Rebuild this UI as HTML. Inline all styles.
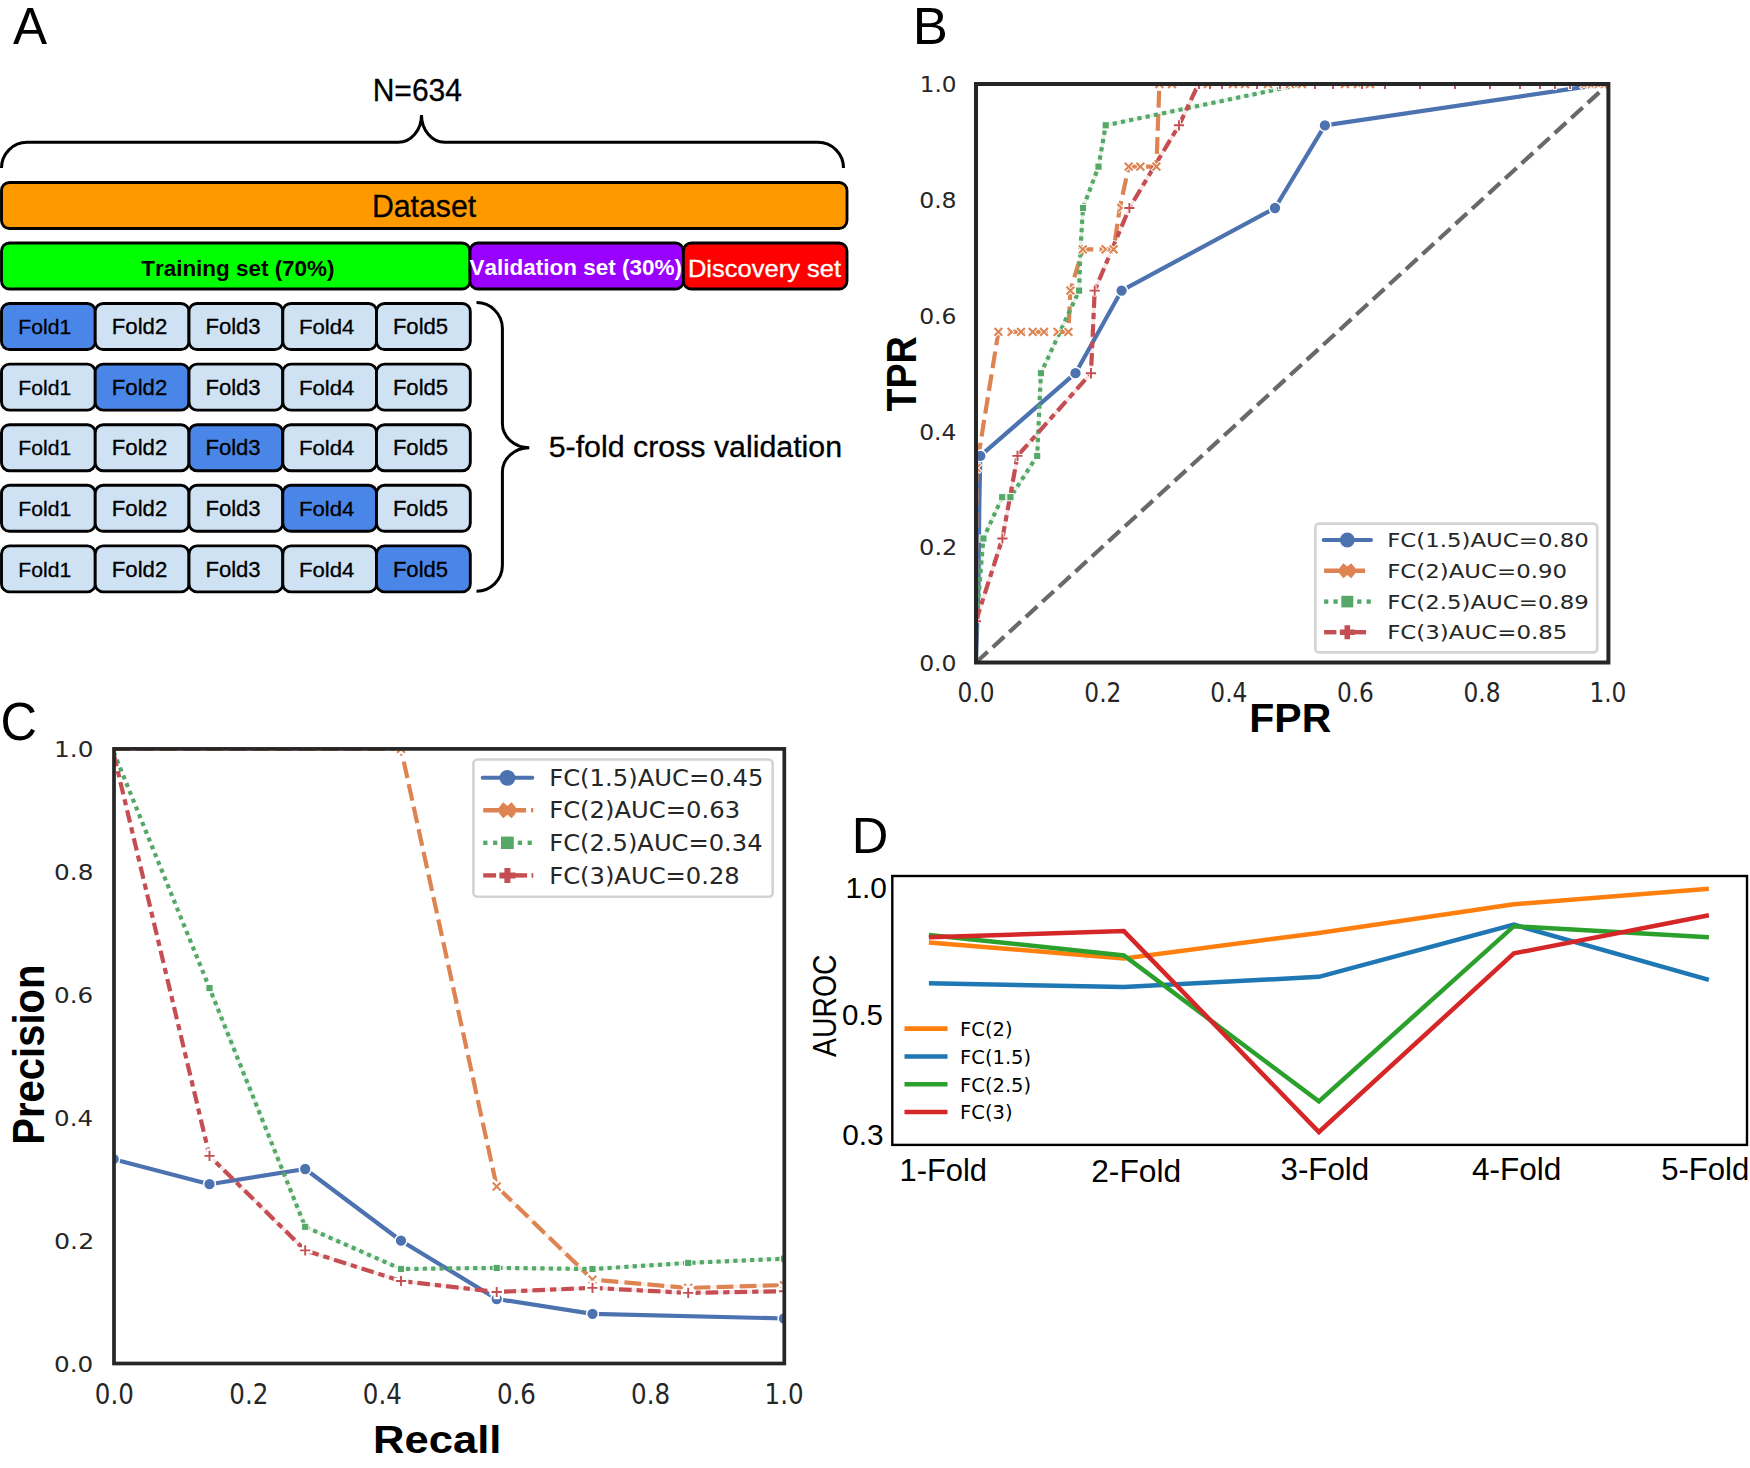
<!DOCTYPE html>
<html lang="en"><head><meta charset="utf-8"><title>Figure: 5-fold cross validation, ROC, precision-recall and AUROC per fold</title>
<style>
html,body{margin:0;padding:0;background:#fff}
svg{display:block;font-family:"Liberation Sans",sans-serif;font-kerning:none}
text{white-space:pre}
</style></head>
<body>
<svg width="1750" height="1468" viewBox="0 0 1750 1468">
<rect width="1750" height="1468" fill="#fff"/>
<g id="panelA">
<text transform="translate(13.00 44.00) scale(0.9992 1)" font-size="51.16" fill="#000">A</text>
<text transform="translate(372.63 101.00) scale(0.9622 1)" font-size="31.25" fill="#000" stroke="#000" stroke-width="0.30">N=634</text>
<path d="M1.5 168 A25.5 25.7 0 0 1 27 142.3 L398.3 142.3 A23.2 27.3 0 0 0 421.5 115 A23.2 27.3 0 0 0 444.7 142.3 L818 142.3 A25.5 25.7 0 0 1 843.5 168" fill="none" stroke="#000" stroke-width="3"/>
<rect x="1.5" y="182.5" width="845.5" height="46.0" rx="8" fill="#ff9900" stroke="#000" stroke-width="2.85"/>
<text transform="translate(371.92 217.00) scale(0.9757 1)" font-size="31.02" fill="#000" stroke="#000" stroke-width="0.30">Dataset</text>
<rect x="1.5" y="243.0" width="468.5" height="46.0" rx="8" fill="#00ff00" stroke="#000" stroke-width="2.85"/>
<rect x="470.0" y="243.0" width="213.4" height="46.0" rx="8" fill="#9900ff" stroke="#000" stroke-width="2.85"/>
<rect x="683.4" y="243.0" width="163.6" height="46.0" rx="8" fill="#ff0000" stroke="#000" stroke-width="2.85"/>
<text transform="translate(141.25 276.00) scale(0.9902 1)" font-size="22.67" font-weight="bold" fill="#000">Training set (70%)</text>
<text transform="translate(469.55 274.80) scale(1.0432 1)" font-size="21.57" font-weight="bold" fill="#fff">Validation set (30%)</text>
<text transform="translate(687.90 277.30) scale(1.1044 1)" font-size="23.13" fill="#fff" stroke="#fff" stroke-width="0.30">Discovery set</text>
<rect x="1.5" y="303.5" width="93.8" height="46.0" rx="8" fill="#4a86e8" stroke="#000" stroke-width="2.9"/>
<text transform="translate(18.37 334.10) scale(0.9993 1)" font-size="21.15" fill="#000" stroke="#000" stroke-width="0.30">Fold1</text>
<rect x="95.2" y="303.5" width="93.8" height="46.0" rx="8" fill="#cfe2f3" stroke="#000" stroke-width="2.9"/>
<text transform="translate(111.78 334.10) scale(1.0478 1)" font-size="21.15" fill="#000" stroke="#000" stroke-width="0.30">Fold2</text>
<rect x="189.0" y="303.5" width="93.8" height="46.0" rx="8" fill="#cfe2f3" stroke="#000" stroke-width="2.9"/>
<text transform="translate(205.39 334.10) scale(1.0450 1)" font-size="21.15" fill="#000" stroke="#000" stroke-width="0.30">Fold3</text>
<rect x="282.8" y="303.5" width="93.8" height="46.0" rx="8" fill="#cfe2f3" stroke="#000" stroke-width="2.9"/>
<text transform="translate(298.88 334.10) scale(1.0485 1)" font-size="21.15" fill="#000" stroke="#000" stroke-width="0.30">Fold4</text>
<rect x="376.5" y="303.5" width="93.8" height="46.0" rx="8" fill="#cfe2f3" stroke="#000" stroke-width="2.9"/>
<text transform="translate(392.89 334.10) scale(1.0442 1)" font-size="21.15" fill="#000" stroke="#000" stroke-width="0.30">Fold5</text>
<rect x="1.5" y="364.1" width="93.8" height="46.0" rx="8" fill="#cfe2f3" stroke="#000" stroke-width="2.9"/>
<text transform="translate(18.37 394.70) scale(0.9993 1)" font-size="21.15" fill="#000" stroke="#000" stroke-width="0.30">Fold1</text>
<rect x="95.2" y="364.1" width="93.8" height="46.0" rx="8" fill="#4a86e8" stroke="#000" stroke-width="2.9"/>
<text transform="translate(111.78 394.70) scale(1.0478 1)" font-size="21.15" fill="#000" stroke="#000" stroke-width="0.30">Fold2</text>
<rect x="189.0" y="364.1" width="93.8" height="46.0" rx="8" fill="#cfe2f3" stroke="#000" stroke-width="2.9"/>
<text transform="translate(205.39 394.70) scale(1.0450 1)" font-size="21.15" fill="#000" stroke="#000" stroke-width="0.30">Fold3</text>
<rect x="282.8" y="364.1" width="93.8" height="46.0" rx="8" fill="#cfe2f3" stroke="#000" stroke-width="2.9"/>
<text transform="translate(298.88 394.70) scale(1.0485 1)" font-size="21.15" fill="#000" stroke="#000" stroke-width="0.30">Fold4</text>
<rect x="376.5" y="364.1" width="93.8" height="46.0" rx="8" fill="#cfe2f3" stroke="#000" stroke-width="2.9"/>
<text transform="translate(392.89 394.70) scale(1.0442 1)" font-size="21.15" fill="#000" stroke="#000" stroke-width="0.30">Fold5</text>
<rect x="1.5" y="424.7" width="93.8" height="46.0" rx="8" fill="#cfe2f3" stroke="#000" stroke-width="2.9"/>
<text transform="translate(18.37 455.30) scale(0.9993 1)" font-size="21.15" fill="#000" stroke="#000" stroke-width="0.30">Fold1</text>
<rect x="95.2" y="424.7" width="93.8" height="46.0" rx="8" fill="#cfe2f3" stroke="#000" stroke-width="2.9"/>
<text transform="translate(111.78 455.30) scale(1.0478 1)" font-size="21.15" fill="#000" stroke="#000" stroke-width="0.30">Fold2</text>
<rect x="189.0" y="424.7" width="93.8" height="46.0" rx="8" fill="#4a86e8" stroke="#000" stroke-width="2.9"/>
<text transform="translate(205.39 455.30) scale(1.0450 1)" font-size="21.15" fill="#000" stroke="#000" stroke-width="0.30">Fold3</text>
<rect x="282.8" y="424.7" width="93.8" height="46.0" rx="8" fill="#cfe2f3" stroke="#000" stroke-width="2.9"/>
<text transform="translate(298.88 455.30) scale(1.0485 1)" font-size="21.15" fill="#000" stroke="#000" stroke-width="0.30">Fold4</text>
<rect x="376.5" y="424.7" width="93.8" height="46.0" rx="8" fill="#cfe2f3" stroke="#000" stroke-width="2.9"/>
<text transform="translate(392.89 455.30) scale(1.0442 1)" font-size="21.15" fill="#000" stroke="#000" stroke-width="0.30">Fold5</text>
<rect x="1.5" y="485.3" width="93.8" height="46.0" rx="8" fill="#cfe2f3" stroke="#000" stroke-width="2.9"/>
<text transform="translate(18.37 515.90) scale(0.9993 1)" font-size="21.15" fill="#000" stroke="#000" stroke-width="0.30">Fold1</text>
<rect x="95.2" y="485.3" width="93.8" height="46.0" rx="8" fill="#cfe2f3" stroke="#000" stroke-width="2.9"/>
<text transform="translate(111.78 515.90) scale(1.0478 1)" font-size="21.15" fill="#000" stroke="#000" stroke-width="0.30">Fold2</text>
<rect x="189.0" y="485.3" width="93.8" height="46.0" rx="8" fill="#cfe2f3" stroke="#000" stroke-width="2.9"/>
<text transform="translate(205.39 515.90) scale(1.0450 1)" font-size="21.15" fill="#000" stroke="#000" stroke-width="0.30">Fold3</text>
<rect x="282.8" y="485.3" width="93.8" height="46.0" rx="8" fill="#4a86e8" stroke="#000" stroke-width="2.9"/>
<text transform="translate(298.88 515.90) scale(1.0485 1)" font-size="21.15" fill="#000" stroke="#000" stroke-width="0.30">Fold4</text>
<rect x="376.5" y="485.3" width="93.8" height="46.0" rx="8" fill="#cfe2f3" stroke="#000" stroke-width="2.9"/>
<text transform="translate(392.89 515.90) scale(1.0442 1)" font-size="21.15" fill="#000" stroke="#000" stroke-width="0.30">Fold5</text>
<rect x="1.5" y="545.9" width="93.8" height="46.0" rx="8" fill="#cfe2f3" stroke="#000" stroke-width="2.9"/>
<text transform="translate(18.37 576.50) scale(0.9993 1)" font-size="21.15" fill="#000" stroke="#000" stroke-width="0.30">Fold1</text>
<rect x="95.2" y="545.9" width="93.8" height="46.0" rx="8" fill="#cfe2f3" stroke="#000" stroke-width="2.9"/>
<text transform="translate(111.78 576.50) scale(1.0478 1)" font-size="21.15" fill="#000" stroke="#000" stroke-width="0.30">Fold2</text>
<rect x="189.0" y="545.9" width="93.8" height="46.0" rx="8" fill="#cfe2f3" stroke="#000" stroke-width="2.9"/>
<text transform="translate(205.39 576.50) scale(1.0450 1)" font-size="21.15" fill="#000" stroke="#000" stroke-width="0.30">Fold3</text>
<rect x="282.8" y="545.9" width="93.8" height="46.0" rx="8" fill="#cfe2f3" stroke="#000" stroke-width="2.9"/>
<text transform="translate(298.88 576.50) scale(1.0485 1)" font-size="21.15" fill="#000" stroke="#000" stroke-width="0.30">Fold4</text>
<rect x="376.5" y="545.9" width="93.8" height="46.0" rx="8" fill="#4a86e8" stroke="#000" stroke-width="2.9"/>
<text transform="translate(392.89 576.50) scale(1.0442 1)" font-size="21.15" fill="#000" stroke="#000" stroke-width="0.30">Fold5</text>
<path d="M476.5 302.6 A25.9 25.9 0 0 1 502.4 328.5 L502.4 423.5 A26.9 24.2 0 0 0 529.3 447.7 A26.9 24.2 0 0 0 502.4 471.9 L502.4 565.3 A25.9 25.9 0 0 1 476.5 591.2" fill="none" stroke="#000" stroke-width="3"/>
<text transform="translate(548.68 457.20) scale(1.0453 1)" font-size="29.04" fill="#000" stroke="#000" stroke-width="0.30">5-fold cross validation</text>
</g>
<g id="panelB">
<text transform="translate(912.68 43.60) scale(1.0054 1)" font-size="52.33" fill="#000">B</text>
<line x1="976.0" y1="662.5" x2="1608.4" y2="84.0" stroke="#696969" stroke-width="4.2" stroke-dasharray="15.6 6.8" stroke-dashoffset="-0.3"/>
<clipPath id="cb"><rect x="976.0" y="84.0" width="632.4" height="578.5"/></clipPath>
<g clip-path="url(#cb)">
<polyline points="976.0,662.5 978.4,585.0 979.4,500.0 980.3,455.9 1075.5,373.2 1121.6,290.6 1275.0,208.0 1324.9,125.3 1600.0,84.6 1608.4,84.0" fill="none" stroke="#4c72b0" stroke-width="4.2" stroke-linejoin="round"/>
<polyline points="976.0,640.0 976.5,468.0 998.4,331.9 1010.0,331.9 1021.0,331.9 1032.7,331.9 1044.0,331.9 1056.0,331.9 1068.4,331.9 1070.4,290.6 1082.8,249.3 1104.0,249.3 1113.6,249.3 1119.8,208.0 1128.7,166.6 1140.4,166.6 1156.4,166.6 1159.4,84.0 1608.4,84.0" fill="none" stroke="#dd8452" stroke-width="4.2" stroke-linejoin="round" stroke-dasharray="16.8 6.3" stroke-dashoffset="4"/>
<polyline points="976.0,640.0 976.5,621.2 983.4,538.5 1002.2,497.2 1010.4,497.2 1037.2,455.9 1040.9,373.2 1079.1,290.6 1080.5,249.3 1083.0,208.0 1098.5,166.6 1105.7,125.3 1303.0,84.0 1608.4,84.0" fill="none" stroke="#55a868" stroke-opacity="0.16" stroke-width="3.2" stroke-linejoin="round"/>
<polyline points="976.0,640.0 976.5,621.2 983.4,538.5 1002.2,497.2 1010.4,497.2 1037.2,455.9 1040.9,373.2 1079.1,290.6 1080.5,249.3 1083.0,208.0 1098.5,166.6 1105.7,125.3 1303.0,84.0 1608.4,84.0" fill="none" stroke="#55a868" stroke-width="4.2" stroke-linejoin="round" stroke-dasharray="4.2 4.2" stroke-dashoffset="0"/>
<polyline points="976.0,621.2 1002.4,538.5 1017.5,455.9 1091.0,373.2 1094.7,290.6 1129.4,208.0 1179.0,125.3 1198.5,84.0 1608.4,84.0" fill="none" stroke="#c44e52" stroke-opacity="0.16" stroke-width="3.2" stroke-linejoin="round"/>
<polyline points="976.0,621.2 1002.4,538.5 1017.5,455.9 1091.0,373.2 1094.7,290.6 1129.4,208.0 1179.0,125.3 1198.5,84.0 1608.4,84.0" fill="none" stroke="#c44e52" stroke-width="4.2" stroke-linejoin="round" stroke-dasharray="12.6 5 6.3 5" stroke-dashoffset="0"/>
<circle cx="980.3" cy="455.9" r="5.9" fill="#4c72b0" stroke="#fff" stroke-width="1.5"/>
<circle cx="1075.5" cy="373.2" r="5.9" fill="#4c72b0" stroke="#fff" stroke-width="1.5"/>
<circle cx="1121.6" cy="290.6" r="5.9" fill="#4c72b0" stroke="#fff" stroke-width="1.5"/>
<circle cx="1275.0" cy="208.0" r="5.9" fill="#4c72b0" stroke="#fff" stroke-width="1.5"/>
<circle cx="1324.9" cy="125.3" r="5.9" fill="#4c72b0" stroke="#fff" stroke-width="1.5"/>
<path d="M972.0 463.5 L981.0 472.5 M972.0 472.5 L981.0 463.5" stroke="#fff" stroke-width="3.9" fill="none"/>
<path d="M972.6 464.1 L980.4 471.9 M972.6 471.9 L980.4 464.1" stroke="#dd8452" stroke-width="2.1" fill="none"/>
<path d="M993.9 327.4 L1002.9 336.5 M993.9 336.5 L1002.9 327.4" stroke="#fff" stroke-width="3.9" fill="none"/>
<path d="M994.5 328.0 L1002.3 335.8 M994.5 335.8 L1002.3 328.0" stroke="#dd8452" stroke-width="2.1" fill="none"/>
<path d="M1007.6 328.0 L1011.9 331.9 L1007.6 335.8" stroke="#fff" stroke-width="3.9" fill="none"/>
<path d="M1007.6 328.0 L1011.9 331.9 L1007.6 335.8" stroke="#dd8452" stroke-width="2.1" fill="none" stroke-linejoin="miter"/>
<path d="M1016.5 327.4 L1025.5 336.5 M1016.5 336.5 L1025.5 327.4" stroke="#fff" stroke-width="3.9" fill="none"/>
<path d="M1017.1 328.0 L1024.9 335.8 M1017.1 335.8 L1024.9 328.0" stroke="#dd8452" stroke-width="2.1" fill="none"/>
<path d="M1028.2 327.4 L1037.2 336.5 M1028.2 336.5 L1037.2 327.4" stroke="#fff" stroke-width="3.9" fill="none"/>
<path d="M1028.8 328.0 L1036.6 335.8 M1028.8 335.8 L1036.6 328.0" stroke="#dd8452" stroke-width="2.1" fill="none"/>
<path d="M1039.5 327.4 L1048.5 336.5 M1039.5 336.5 L1048.5 327.4" stroke="#fff" stroke-width="3.9" fill="none"/>
<path d="M1040.1 328.0 L1047.9 335.8 M1040.1 335.8 L1047.9 328.0" stroke="#dd8452" stroke-width="2.1" fill="none"/>
<path d="M1053.6 328.0 L1057.9 331.9 L1053.6 335.8" stroke="#fff" stroke-width="3.9" fill="none"/>
<path d="M1053.6 328.0 L1057.9 331.9 L1053.6 335.8" stroke="#dd8452" stroke-width="2.1" fill="none" stroke-linejoin="miter"/>
<path d="M1063.9 327.4 L1072.9 336.5 M1063.9 336.5 L1072.9 327.4" stroke="#fff" stroke-width="3.9" fill="none"/>
<path d="M1064.5 328.0 L1072.3 335.8 M1064.5 335.8 L1072.3 328.0" stroke="#dd8452" stroke-width="2.1" fill="none"/>
<path d="M1065.9 286.1 L1074.9 295.1 M1065.9 295.1 L1074.9 286.1" stroke="#fff" stroke-width="3.9" fill="none"/>
<path d="M1066.5 286.7 L1074.3 294.5 M1066.5 294.5 L1074.3 286.7" stroke="#dd8452" stroke-width="2.1" fill="none"/>
<path d="M1078.3 244.8 L1087.3 253.8 M1078.3 253.8 L1087.3 244.8" stroke="#fff" stroke-width="3.9" fill="none"/>
<path d="M1078.9 245.4 L1086.7 253.2 M1078.9 253.2 L1086.7 245.4" stroke="#dd8452" stroke-width="2.1" fill="none"/>
<path d="M1101.6 245.4 L1105.9 249.3 L1101.6 253.2" stroke="#fff" stroke-width="3.9" fill="none"/>
<path d="M1101.6 245.4 L1105.9 249.3 L1101.6 253.2" stroke="#dd8452" stroke-width="2.1" fill="none" stroke-linejoin="miter"/>
<path d="M1109.1 244.8 L1118.1 253.8 M1109.1 253.8 L1118.1 244.8" stroke="#fff" stroke-width="3.9" fill="none"/>
<path d="M1109.7 245.4 L1117.5 253.2 M1109.7 253.2 L1117.5 245.4" stroke="#dd8452" stroke-width="2.1" fill="none"/>
<path d="M1117.4 204.1 L1121.7 208.0 L1117.4 211.9" stroke="#fff" stroke-width="3.9" fill="none"/>
<path d="M1117.4 204.1 L1121.7 208.0 L1117.4 211.9" stroke="#dd8452" stroke-width="2.1" fill="none" stroke-linejoin="miter"/>
<path d="M1124.2 162.1 L1133.2 171.2 M1124.2 171.2 L1133.2 162.1" stroke="#fff" stroke-width="3.9" fill="none"/>
<path d="M1124.8 162.7 L1132.6 170.5 M1124.8 170.5 L1132.6 162.7" stroke="#dd8452" stroke-width="2.1" fill="none"/>
<path d="M1135.9 162.1 L1144.9 171.2 M1135.9 171.2 L1144.9 162.1" stroke="#fff" stroke-width="3.9" fill="none"/>
<path d="M1136.5 162.7 L1144.3 170.5 M1136.5 170.5 L1144.3 162.7" stroke="#dd8452" stroke-width="2.1" fill="none"/>
<path d="M1151.9 162.1 L1160.9 171.2 M1151.9 171.2 L1160.9 162.1" stroke="#fff" stroke-width="3.9" fill="none"/>
<path d="M1152.5 162.7 L1160.3 170.5 M1152.5 170.5 L1160.3 162.7" stroke="#dd8452" stroke-width="2.1" fill="none"/>
<path d="M1154.9 79.5 L1163.9 88.5 M1154.9 88.5 L1163.9 79.5" stroke="#fff" stroke-width="3.9" fill="none"/>
<path d="M1155.5 80.1 L1163.3 87.9 M1155.5 87.9 L1163.3 80.1" stroke="#dd8452" stroke-width="2.1" fill="none"/>
<rect x="979.8" y="534.9" width="7.2" height="7.2" fill="#55a868" stroke="#fff" stroke-width="1.0"/>
<rect x="998.6" y="493.6" width="7.2" height="7.2" fill="#55a868" stroke="#fff" stroke-width="1.0"/>
<rect x="1006.8" y="493.6" width="7.2" height="7.2" fill="#55a868" stroke="#fff" stroke-width="1.0"/>
<rect x="1033.6" y="452.3" width="7.2" height="7.2" fill="#55a868" stroke="#fff" stroke-width="1.0"/>
<rect x="1037.3" y="369.6" width="7.2" height="7.2" fill="#55a868" stroke="#fff" stroke-width="1.0"/>
<rect x="1075.5" y="287.0" width="7.2" height="7.2" fill="#55a868" stroke="#fff" stroke-width="1.0"/>
<rect x="1079.4" y="204.4" width="7.2" height="7.2" fill="#55a868" stroke="#fff" stroke-width="1.0"/>
<rect x="1094.9" y="163.0" width="7.2" height="7.2" fill="#55a868" stroke="#fff" stroke-width="1.0"/>
<rect x="1102.1" y="121.7" width="7.2" height="7.2" fill="#55a868" stroke="#fff" stroke-width="1.0"/>
<path d="M970.0 621.2 L982.0 621.2 M976.0 615.2 L976.0 627.2" stroke="#fff" stroke-width="3.7" fill="none"/>
<path d="M970.9 621.2 L981.1 621.2 M976.0 616.1 L976.0 626.3" stroke="#c44e52" stroke-width="1.9" fill="none"/>
<path d="M996.4 538.5 L1008.4 538.5 M1002.4 532.5 L1002.4 544.5" stroke="#fff" stroke-width="3.7" fill="none"/>
<path d="M997.3 538.5 L1007.5 538.5 M1002.4 533.4 L1002.4 543.6" stroke="#c44e52" stroke-width="1.9" fill="none"/>
<path d="M1011.5 455.9 L1023.5 455.9 M1017.5 449.9 L1017.5 461.9" stroke="#fff" stroke-width="3.7" fill="none"/>
<path d="M1012.4 455.9 L1022.6 455.9 M1017.5 450.8 L1017.5 461.0" stroke="#c44e52" stroke-width="1.9" fill="none"/>
<path d="M1085.0 373.2 L1097.0 373.2 M1091.0 367.2 L1091.0 379.2" stroke="#fff" stroke-width="3.7" fill="none"/>
<path d="M1085.9 373.2 L1096.1 373.2 M1091.0 368.1 L1091.0 378.4" stroke="#c44e52" stroke-width="1.9" fill="none"/>
<path d="M1088.7 290.6 L1100.7 290.6 M1094.7 284.6 L1094.7 296.6" stroke="#fff" stroke-width="3.7" fill="none"/>
<path d="M1089.6 290.6 L1099.8 290.6 M1094.7 285.5 L1094.7 295.7" stroke="#c44e52" stroke-width="1.9" fill="none"/>
<path d="M1123.4 208.0 L1135.4 208.0 M1129.4 202.0 L1129.4 214.0" stroke="#fff" stroke-width="3.7" fill="none"/>
<path d="M1124.3 208.0 L1134.5 208.0 M1129.4 202.9 L1129.4 213.1" stroke="#c44e52" stroke-width="1.9" fill="none"/>
<path d="M1173.0 125.3 L1185.0 125.3 M1179.0 119.3 L1179.0 131.3" stroke="#fff" stroke-width="3.7" fill="none"/>
<path d="M1173.9 125.3 L1184.1 125.3 M1179.0 120.2 L1179.0 130.4" stroke="#c44e52" stroke-width="1.9" fill="none"/>
<path d="M1192.5 84.0 L1204.5 84.0 M1198.5 78.0 L1198.5 90.0" stroke="#fff" stroke-width="3.7" fill="none"/>
<path d="M1193.4 84.0 L1203.6 84.0 M1198.5 78.9 L1198.5 89.1" stroke="#c44e52" stroke-width="1.9" fill="none"/>
<path d="M1167.5 79.5 L1176.5 88.5 M1167.5 88.5 L1176.5 79.5" stroke="#fff" stroke-width="3.9" fill="none"/>
<path d="M1168.1 80.1 L1175.9 87.9 M1168.1 87.9 L1175.9 80.1" stroke="#dd8452" stroke-width="2.1" fill="none"/>
<path d="M1203.5 79.5 L1212.5 88.5 M1203.5 88.5 L1212.5 79.5" stroke="#fff" stroke-width="3.9" fill="none"/>
<path d="M1204.1 80.1 L1211.9 87.9 M1204.1 87.9 L1211.9 80.1" stroke="#dd8452" stroke-width="2.1" fill="none"/>
<path d="M1228.5 79.5 L1237.5 88.5 M1228.5 88.5 L1237.5 79.5" stroke="#fff" stroke-width="3.9" fill="none"/>
<path d="M1229.1 80.1 L1236.9 87.9 M1229.1 87.9 L1236.9 80.1" stroke="#dd8452" stroke-width="2.1" fill="none"/>
<path d="M1240.5 79.5 L1249.5 88.5 M1240.5 88.5 L1249.5 79.5" stroke="#fff" stroke-width="3.9" fill="none"/>
<path d="M1241.1 80.1 L1248.9 87.9 M1241.1 87.9 L1248.9 80.1" stroke="#dd8452" stroke-width="2.1" fill="none"/>
<path d="M1263.5 79.5 L1272.5 88.5 M1263.5 88.5 L1272.5 79.5" stroke="#fff" stroke-width="3.9" fill="none"/>
<path d="M1264.1 80.1 L1271.9 87.9 M1264.1 87.9 L1271.9 80.1" stroke="#dd8452" stroke-width="2.1" fill="none"/>
<path d="M1285.5 79.5 L1294.5 88.5 M1285.5 88.5 L1294.5 79.5" stroke="#fff" stroke-width="3.9" fill="none"/>
<path d="M1286.1 80.1 L1293.9 87.9 M1286.1 87.9 L1293.9 80.1" stroke="#dd8452" stroke-width="2.1" fill="none"/>
<path d="M1297.5 79.5 L1306.5 88.5 M1297.5 88.5 L1306.5 79.5" stroke="#fff" stroke-width="3.9" fill="none"/>
<path d="M1298.1 80.1 L1305.9 87.9 M1298.1 87.9 L1305.9 80.1" stroke="#dd8452" stroke-width="2.1" fill="none"/>
<path d="M1340.5 79.5 L1349.5 88.5 M1340.5 88.5 L1349.5 79.5" stroke="#fff" stroke-width="3.9" fill="none"/>
<path d="M1341.1 80.1 L1348.9 87.9 M1341.1 87.9 L1348.9 80.1" stroke="#dd8452" stroke-width="2.1" fill="none"/>
<path d="M1353.5 79.5 L1362.5 88.5 M1353.5 88.5 L1362.5 79.5" stroke="#fff" stroke-width="3.9" fill="none"/>
<path d="M1354.1 80.1 L1361.9 87.9 M1354.1 87.9 L1361.9 80.1" stroke="#dd8452" stroke-width="2.1" fill="none"/>
<path d="M1365.5 79.5 L1374.5 88.5 M1365.5 88.5 L1374.5 79.5" stroke="#fff" stroke-width="3.9" fill="none"/>
<path d="M1366.1 80.1 L1373.9 87.9 M1366.1 87.9 L1373.9 80.1" stroke="#dd8452" stroke-width="2.1" fill="none"/>
<path d="M1580.2 81.2 L1587.8 88.8 M1580.2 88.8 L1587.8 81.2" stroke="#fff" stroke-width="3.4" fill="none"/>
<path d="M1580.8 81.8 L1587.2 88.2 M1580.8 88.2 L1587.2 81.8" stroke="#dd8452" stroke-width="1.6" fill="none"/>
<path d="M1587.2 81.2 L1594.8 88.8 M1587.2 88.8 L1594.8 81.2" stroke="#fff" stroke-width="3.4" fill="none"/>
<path d="M1587.8 81.8 L1594.2 88.2 M1587.8 88.2 L1594.2 81.8" stroke="#dd8452" stroke-width="1.6" fill="none"/>
<path d="M1594.2 81.2 L1601.8 88.8 M1594.2 88.8 L1601.8 81.2" stroke="#fff" stroke-width="3.4" fill="none"/>
<path d="M1594.8 81.8 L1601.2 88.2 M1594.8 88.2 L1601.2 81.8" stroke="#dd8452" stroke-width="1.6" fill="none"/>
<path d="M1600.2 81.2 L1607.8 88.8 M1600.2 88.8 L1607.8 81.2" stroke="#fff" stroke-width="3.4" fill="none"/>
<path d="M1600.8 81.8 L1607.2 88.2 M1600.8 88.2 L1607.2 81.8" stroke="#dd8452" stroke-width="1.6" fill="none"/>
<path d="M1193.0 84.0 L1205.0 84.0 M1199.0 78.0 L1199.0 90.0" stroke="#fff" stroke-width="3.7" fill="none"/>
<path d="M1193.9 84.0 L1204.1 84.0 M1199.0 78.9 L1199.0 89.1" stroke="#c44e52" stroke-width="1.9" fill="none"/>
<path d="M1204.0 84.0 L1216.0 84.0 M1210.0 78.0 L1210.0 90.0" stroke="#fff" stroke-width="3.7" fill="none"/>
<path d="M1204.9 84.0 L1215.1 84.0 M1210.0 78.9 L1210.0 89.1" stroke="#c44e52" stroke-width="1.9" fill="none"/>
<path d="M1216.0 84.0 L1228.0 84.0 M1222.0 78.0 L1222.0 90.0" stroke="#fff" stroke-width="3.7" fill="none"/>
<path d="M1216.9 84.0 L1227.1 84.0 M1222.0 78.9 L1222.0 89.1" stroke="#c44e52" stroke-width="1.9" fill="none"/>
<path d="M1251.0 84.0 L1263.0 84.0 M1257.0 78.0 L1257.0 90.0" stroke="#fff" stroke-width="3.7" fill="none"/>
<path d="M1251.9 84.0 L1262.1 84.0 M1257.0 78.9 L1257.0 89.1" stroke="#c44e52" stroke-width="1.9" fill="none"/>
<path d="M1274.0 84.0 L1286.0 84.0 M1280.0 78.0 L1280.0 90.0" stroke="#fff" stroke-width="3.7" fill="none"/>
<path d="M1274.9 84.0 L1285.1 84.0 M1280.0 78.9 L1280.0 89.1" stroke="#c44e52" stroke-width="1.9" fill="none"/>
<path d="M1309.0 84.0 L1321.0 84.0 M1315.0 78.0 L1315.0 90.0" stroke="#fff" stroke-width="3.7" fill="none"/>
<path d="M1309.9 84.0 L1320.1 84.0 M1315.0 78.9 L1315.0 89.1" stroke="#c44e52" stroke-width="1.9" fill="none"/>
<path d="M1327.0 84.0 L1339.0 84.0 M1333.0 78.0 L1333.0 90.0" stroke="#fff" stroke-width="3.7" fill="none"/>
<path d="M1327.9 84.0 L1338.1 84.0 M1333.0 78.9 L1333.0 89.1" stroke="#c44e52" stroke-width="1.9" fill="none"/>
<path d="M1356.0 84.0 L1368.0 84.0 M1362.0 78.0 L1362.0 90.0" stroke="#fff" stroke-width="3.7" fill="none"/>
<path d="M1356.9 84.0 L1367.1 84.0 M1362.0 78.9 L1362.0 89.1" stroke="#c44e52" stroke-width="1.9" fill="none"/>
<path d="M1379.0 84.0 L1391.0 84.0 M1385.0 78.0 L1385.0 90.0" stroke="#fff" stroke-width="3.7" fill="none"/>
<path d="M1379.9 84.0 L1390.1 84.0 M1385.0 78.9 L1385.0 89.1" stroke="#c44e52" stroke-width="1.9" fill="none"/>
<path d="M1414.0 84.0 L1426.0 84.0 M1420.0 78.0 L1420.0 90.0" stroke="#fff" stroke-width="3.7" fill="none"/>
<path d="M1414.9 84.0 L1425.1 84.0 M1420.0 78.9 L1420.0 89.1" stroke="#c44e52" stroke-width="1.9" fill="none"/>
<path d="M1449.0 84.0 L1461.0 84.0 M1455.0 78.0 L1455.0 90.0" stroke="#fff" stroke-width="3.7" fill="none"/>
<path d="M1449.9 84.0 L1460.1 84.0 M1455.0 78.9 L1455.0 89.1" stroke="#c44e52" stroke-width="1.9" fill="none"/>
<path d="M1484.0 84.0 L1496.0 84.0 M1490.0 78.0 L1490.0 90.0" stroke="#fff" stroke-width="3.7" fill="none"/>
<path d="M1484.9 84.0 L1495.1 84.0 M1490.0 78.9 L1490.0 89.1" stroke="#c44e52" stroke-width="1.9" fill="none"/>
<path d="M1514.0 84.0 L1526.0 84.0 M1520.0 78.0 L1520.0 90.0" stroke="#fff" stroke-width="3.7" fill="none"/>
<path d="M1514.9 84.0 L1525.1 84.0 M1520.0 78.9 L1520.0 89.1" stroke="#c44e52" stroke-width="1.9" fill="none"/>
<path d="M1534.0 84.0 L1546.0 84.0 M1540.0 78.0 L1540.0 90.0" stroke="#fff" stroke-width="3.7" fill="none"/>
<path d="M1534.9 84.0 L1545.1 84.0 M1540.0 78.9 L1540.0 89.1" stroke="#c44e52" stroke-width="1.9" fill="none"/>
<path d="M1549.0 84.0 L1561.0 84.0 M1555.0 78.0 L1555.0 90.0" stroke="#fff" stroke-width="3.7" fill="none"/>
<path d="M1549.9 84.0 L1560.1 84.0 M1555.0 78.9 L1555.0 89.1" stroke="#c44e52" stroke-width="1.9" fill="none"/>
<path d="M1564.0 84.0 L1576.0 84.0 M1570.0 78.0 L1570.0 90.0" stroke="#fff" stroke-width="3.7" fill="none"/>
<path d="M1564.9 84.0 L1575.1 84.0 M1570.0 78.9 L1570.0 89.1" stroke="#c44e52" stroke-width="1.9" fill="none"/>
</g>
<rect x="976.0" y="84.0" width="632.4" height="578.5" fill="none" stroke="#262626" stroke-width="4"/>
<text transform="translate(919.15 670.90) scale(1.0924 1)" font-size="21.54" font-family="DejaVu Sans, sans-serif" fill="#262626">0.0</text>
<text transform="translate(957.49 701.50) scale(0.8530 1)" font-size="27.30" font-family="DejaVu Sans, sans-serif" fill="#262626">0.0</text>
<text transform="translate(919.11 555.20) scale(1.1182 1)" font-size="21.54" font-family="DejaVu Sans, sans-serif" fill="#262626">0.2</text>
<text transform="translate(1084.36 701.50) scale(0.8530 1)" font-size="27.30" font-family="DejaVu Sans, sans-serif" fill="#262626">0.2</text>
<text transform="translate(919.16 439.50) scale(1.0847 1)" font-size="21.54" font-family="DejaVu Sans, sans-serif" fill="#262626">0.4</text>
<text transform="translate(1210.33 701.50) scale(0.8530 1)" font-size="27.30" font-family="DejaVu Sans, sans-serif" fill="#262626">0.4</text>
<text transform="translate(919.15 323.80) scale(1.0898 1)" font-size="21.54" font-family="DejaVu Sans, sans-serif" fill="#262626">0.6</text>
<text transform="translate(1336.89 701.50) scale(0.8530 1)" font-size="27.30" font-family="DejaVu Sans, sans-serif" fill="#262626">0.6</text>
<text transform="translate(919.15 208.10) scale(1.0938 1)" font-size="21.54" font-family="DejaVu Sans, sans-serif" fill="#262626">0.8</text>
<text transform="translate(1463.43 701.50) scale(0.8530 1)" font-size="27.30" font-family="DejaVu Sans, sans-serif" fill="#262626">0.8</text>
<text transform="translate(919.76 92.40) scale(1.0738 1)" font-size="21.54" font-family="DejaVu Sans, sans-serif" fill="#262626">1.0</text>
<text transform="translate(1589.38 701.50) scale(0.8530 1)" font-size="27.30" font-family="DejaVu Sans, sans-serif" fill="#262626">1.0</text>
<text transform="translate(916.00 411.52) rotate(-90) scale(0.8703 1)" font-size="43.31" font-weight="bold" fill="#000">TPR</text>
<text transform="translate(1249.26 731.60) scale(1.0218 1)" font-size="40.12" font-weight="bold" fill="#000">FPR</text>
<rect x="1315.3" y="523.6" width="281.9" height="128.8" rx="4" fill="#fff" fill-opacity="0.8" stroke="#d3d3d3" stroke-width="2.6"/>
<line x1="1323.6" y1="540.0" x2="1371.0" y2="540.0" stroke="#4c72b0" stroke-width="4" stroke-linecap="round"/>
<circle cx="1347.3" cy="540.0" r="7.4" fill="#4c72b0"/>
<text transform="translate(1387.16 547.20) scale(1.1577 1)" font-size="19.75" font-family="DejaVu Sans, sans-serif" fill="#262626">FC(1.5)AUC=0.80</text>
<line x1="1324.1" y1="570.8" x2="1365.1" y2="570.8" stroke="#dd8452" stroke-width="4.4"/>
<path d="M1341.3 565.8 L1353.3 575.8 M1341.3 575.8 L1353.3 565.8" stroke="#dd8452" stroke-width="6.4" stroke-linecap="butt" fill="none"/>
<text transform="translate(1387.16 578.00) scale(1.1578 1)" font-size="19.75" font-family="DejaVu Sans, sans-serif" fill="#262626">FC(2)AUC=0.90</text>
<rect x="1324.1" y="599.4" width="4.2" height="4.4" fill="#55a868"/>
<rect x="1333.5" y="599.4" width="4.2" height="4.4" fill="#55a868"/>
<rect x="1357.2" y="599.4" width="4.2" height="4.4" fill="#55a868"/>
<rect x="1366.6" y="599.4" width="4.2" height="4.4" fill="#55a868"/>
<rect x="1341.3" y="595.8" width="12.0" height="11.6" fill="#55a868"/>
<text transform="translate(1387.15 608.80) scale(1.1582 1)" font-size="19.75" font-family="DejaVu Sans, sans-serif" fill="#262626">FC(2.5)AUC=0.89</text>
<line x1="1324.1" y1="632.2" x2="1336.4" y2="632.2" stroke="#c44e52" stroke-width="4.4"/>
<line x1="1340.4" y1="632.2" x2="1366.1" y2="632.2" stroke="#c44e52" stroke-width="4.4"/>
<path d="M1339.8 632.2 h15.0 M1347.3 625.2 v14.0" stroke="#c44e52" stroke-width="5.6" fill="none"/>
<text transform="translate(1387.15 639.40) scale(1.1610 1)" font-size="19.75" font-family="DejaVu Sans, sans-serif" fill="#262626">FC(3)AUC=0.85</text>
</g>
<g id="panelC">
<text transform="translate(0.43 740.10) scale(0.9524 1)" font-size="53.05" fill="#000">C</text>
<clipPath id="cc"><rect x="114.0" y="748.9" width="670.3" height="614.6"/></clipPath>
<g clip-path="url(#cc)">
<polyline points="113.7,1159.2 209.5,1184.2 305.2,1169.0 401.0,1240.7 496.7,1299.0 592.5,1313.8 784.0,1318.5" fill="none" stroke="#4c72b0" stroke-width="4.2" stroke-linejoin="round"/>
<polyline points="496.7,1186.5 592.5,1279.6 688.2,1287.9 784.0,1285.1" fill="none" stroke="#dd8452" stroke-opacity="0.14" stroke-width="3.2" stroke-linejoin="round"/>
<polyline points="113.7,748.9 401.0,748.9 496.7,1186.5 592.5,1279.6 688.2,1287.9 784.0,1285.1" fill="none" stroke="#dd8452" stroke-width="4.2" stroke-linejoin="round" stroke-dasharray="16.8 6.3" stroke-dashoffset="0"/>
<polyline points="209.5,988.1 305.2,1226.8 401.0,1269.0 496.7,1267.9 592.5,1269.0 688.2,1262.9 784.0,1258.7" fill="none" stroke="#55a868" stroke-opacity="0.14" stroke-width="3.2" stroke-linejoin="round"/>
<polyline points="113.7,752.0 209.5,988.1 305.2,1226.8 401.0,1269.0 496.7,1267.9 592.5,1269.0 688.2,1262.9 784.0,1258.7" fill="none" stroke="#55a868" stroke-width="4.2" stroke-linejoin="round" stroke-dasharray="4.2 4.2" stroke-dashoffset="0"/>
<polyline points="209.5,1155.9 305.2,1250.4 401.0,1281.0 496.7,1292.0 592.5,1287.9 688.2,1292.9 784.0,1291.2" fill="none" stroke="#c44e52" stroke-opacity="0.14" stroke-width="3.2" stroke-linejoin="round"/>
<polyline points="113.7,754.0 209.5,1155.9 305.2,1250.4 401.0,1281.0 496.7,1292.0 592.5,1287.9 688.2,1292.9 784.0,1291.2" fill="none" stroke="#c44e52" stroke-width="4.2" stroke-linejoin="round" stroke-dasharray="12.6 5 6.3 5" stroke-dashoffset="0"/>
<circle cx="113.7" cy="1159.2" r="5.9" fill="#4c72b0" stroke="#fff" stroke-width="1.5"/>
<circle cx="209.5" cy="1184.2" r="5.9" fill="#4c72b0" stroke="#fff" stroke-width="1.5"/>
<circle cx="305.2" cy="1169.0" r="5.9" fill="#4c72b0" stroke="#fff" stroke-width="1.5"/>
<circle cx="401.0" cy="1240.7" r="5.9" fill="#4c72b0" stroke="#fff" stroke-width="1.5"/>
<circle cx="496.7" cy="1299.0" r="5.9" fill="#4c72b0" stroke="#fff" stroke-width="1.5"/>
<circle cx="592.5" cy="1313.8" r="5.9" fill="#4c72b0" stroke="#fff" stroke-width="1.5"/>
<circle cx="784.0" cy="1318.5" r="5.9" fill="#4c72b0" stroke="#fff" stroke-width="1.5"/>
<path d="M395.5 743.4 L406.4 754.3 M395.5 754.3 L406.4 743.4" stroke="#fff" stroke-width="6.5" fill="none"/>
<path d="M397.1 745.0 L404.9 752.8 M397.1 752.8 L404.9 745.0" stroke="#dd8452" stroke-width="2.1" fill="none"/>
<path d="M491.3 1181.1 L502.2 1191.9 M491.3 1191.9 L502.2 1181.1" stroke="#fff" stroke-width="6.5" fill="none"/>
<path d="M492.8 1182.6 L500.6 1190.4 M492.8 1190.4 L500.6 1182.6" stroke="#dd8452" stroke-width="2.1" fill="none"/>
<path d="M587.0 1274.2 L597.9 1285.0 M587.0 1285.0 L597.9 1274.2" stroke="#fff" stroke-width="6.5" fill="none"/>
<path d="M588.6 1275.7 L596.4 1283.5 M588.6 1283.5 L596.4 1275.7" stroke="#dd8452" stroke-width="2.1" fill="none"/>
<path d="M682.8 1282.5 L693.7 1293.3 M682.8 1293.3 L693.7 1282.5" stroke="#fff" stroke-width="6.5" fill="none"/>
<path d="M684.3 1284.0 L692.1 1291.8 M684.3 1291.8 L692.1 1284.0" stroke="#dd8452" stroke-width="2.1" fill="none"/>
<path d="M778.6 1279.7 L789.4 1290.5 M778.6 1290.5 L789.4 1279.7" stroke="#fff" stroke-width="6.5" fill="none"/>
<path d="M780.1 1281.2 L787.9 1289.0 M780.1 1289.0 L787.9 1281.2" stroke="#dd8452" stroke-width="2.1" fill="none"/>
<rect x="205.9" y="984.5" width="7.2" height="7.2" fill="#55a868" stroke="#fff" stroke-width="1.0"/>
<rect x="301.6" y="1223.2" width="7.2" height="7.2" fill="#55a868" stroke="#fff" stroke-width="1.0"/>
<rect x="397.4" y="1265.4" width="7.2" height="7.2" fill="#55a868" stroke="#fff" stroke-width="1.0"/>
<rect x="493.1" y="1264.3" width="7.2" height="7.2" fill="#55a868" stroke="#fff" stroke-width="1.0"/>
<rect x="588.9" y="1265.4" width="7.2" height="7.2" fill="#55a868" stroke="#fff" stroke-width="1.0"/>
<rect x="684.6" y="1259.3" width="7.2" height="7.2" fill="#55a868" stroke="#fff" stroke-width="1.0"/>
<rect x="780.4" y="1255.1" width="7.2" height="7.2" fill="#55a868" stroke="#fff" stroke-width="1.0"/>
<path d="M202.2 1155.9 L216.8 1155.9 M209.5 1148.6 L209.5 1163.2" stroke="#fff" stroke-width="6.3" fill="none"/>
<path d="M204.4 1155.9 L214.6 1155.9 M209.5 1150.8 L209.5 1161.0" stroke="#c44e52" stroke-width="1.9" fill="none"/>
<path d="M297.9 1250.4 L312.5 1250.4 M305.2 1243.1 L305.2 1257.7" stroke="#fff" stroke-width="6.3" fill="none"/>
<path d="M300.1 1250.4 L310.3 1250.4 M305.2 1245.3 L305.2 1255.5" stroke="#c44e52" stroke-width="1.9" fill="none"/>
<path d="M393.7 1281.0 L408.3 1281.0 M401.0 1273.7 L401.0 1288.3" stroke="#fff" stroke-width="6.3" fill="none"/>
<path d="M395.9 1281.0 L406.1 1281.0 M401.0 1275.9 L401.0 1286.1" stroke="#c44e52" stroke-width="1.9" fill="none"/>
<path d="M489.4 1292.0 L504.0 1292.0 M496.7 1284.7 L496.7 1299.3" stroke="#fff" stroke-width="6.3" fill="none"/>
<path d="M491.6 1292.0 L501.8 1292.0 M496.7 1286.9 L496.7 1297.1" stroke="#c44e52" stroke-width="1.9" fill="none"/>
<path d="M585.2 1287.9 L599.8 1287.9 M592.5 1280.6 L592.5 1295.2" stroke="#fff" stroke-width="6.3" fill="none"/>
<path d="M587.4 1287.9 L597.6 1287.9 M592.5 1282.8 L592.5 1293.0" stroke="#c44e52" stroke-width="1.9" fill="none"/>
<path d="M680.9 1292.9 L695.5 1292.9 M688.2 1285.6 L688.2 1300.2" stroke="#fff" stroke-width="6.3" fill="none"/>
<path d="M683.1 1292.9 L693.3 1292.9 M688.2 1287.8 L688.2 1298.0" stroke="#c44e52" stroke-width="1.9" fill="none"/>
<path d="M776.7 1291.2 L791.3 1291.2 M784.0 1283.9 L784.0 1298.5" stroke="#fff" stroke-width="6.3" fill="none"/>
<path d="M778.9 1291.2 L789.1 1291.2 M784.0 1286.1 L784.0 1296.3" stroke="#c44e52" stroke-width="1.9" fill="none"/>
</g>
<rect x="114.0" y="748.9" width="670.3" height="614.6" fill="none" stroke="#262626" stroke-width="3.7"/>
<text transform="translate(54.07 1371.60) scale(1.1180 1)" font-size="22.08" font-family="DejaVu Sans, sans-serif" fill="#262626">0.0</text>
<text transform="translate(94.81 1404.30) scale(0.8850 1)" font-size="27.71" font-family="DejaVu Sans, sans-serif" fill="#262626">0.0</text>
<text transform="translate(54.03 1248.67) scale(1.1445 1)" font-size="22.08" font-family="DejaVu Sans, sans-serif" fill="#262626">0.2</text>
<text transform="translate(229.28 1404.30) scale(0.8850 1)" font-size="27.71" font-family="DejaVu Sans, sans-serif" fill="#262626">0.2</text>
<text transform="translate(54.08 1125.74) scale(1.1102 1)" font-size="22.08" font-family="DejaVu Sans, sans-serif" fill="#262626">0.4</text>
<text transform="translate(362.80 1404.30) scale(0.8850 1)" font-size="27.71" font-family="DejaVu Sans, sans-serif" fill="#262626">0.4</text>
<text transform="translate(54.08 1002.81) scale(1.1154 1)" font-size="22.08" font-family="DejaVu Sans, sans-serif" fill="#262626">0.6</text>
<text transform="translate(496.94 1404.30) scale(0.8850 1)" font-size="27.71" font-family="DejaVu Sans, sans-serif" fill="#262626">0.6</text>
<text transform="translate(54.07 879.88) scale(1.1195 1)" font-size="22.08" font-family="DejaVu Sans, sans-serif" fill="#262626">0.8</text>
<text transform="translate(631.07 1404.30) scale(0.8850 1)" font-size="27.71" font-family="DejaVu Sans, sans-serif" fill="#262626">0.8</text>
<text transform="translate(54.07 756.95) scale(1.1239 1)" font-size="22.08" font-family="DejaVu Sans, sans-serif" fill="#262626">1.0</text>
<text transform="translate(764.57 1404.30) scale(0.8850 1)" font-size="27.71" font-family="DejaVu Sans, sans-serif" fill="#262626">1.0</text>
<text transform="translate(44.06 1144.68) rotate(-90) scale(0.8910 1)" font-size="44.91" font-weight="bold" fill="#000">Precision</text>
<text transform="translate(373.09 1452.90) scale(1.1014 1)" font-size="39.54" font-weight="bold" fill="#000">Recall</text>
<rect x="473.4" y="759.5" width="299.3" height="137.3" rx="4" fill="#fff" fill-opacity="0.8" stroke="#d3d3d3" stroke-width="2.6"/>
<line x1="482.7" y1="777.8" x2="532.3" y2="777.8" stroke="#4c72b0" stroke-width="4" stroke-linecap="round"/>
<circle cx="507.4" cy="777.8" r="7.9" fill="#4c72b0"/>
<text transform="translate(549.22 785.95) scale(1.0858 1)" font-size="22.36" font-family="DejaVu Sans, sans-serif" fill="#262626">FC(1.5)AUC=0.45</text>
<line x1="483.2" y1="810.2" x2="526.1" y2="810.2" stroke="#dd8452" stroke-width="4.4"/>
<line x1="531.0" y1="810.2" x2="533.3" y2="810.2" stroke="#dd8452" stroke-width="4.4"/>
<path d="M501.0 804.9 L513.8 815.6 M501.0 815.6 L513.8 804.9" stroke="#dd8452" stroke-width="6.8" stroke-linecap="butt" fill="none"/>
<text transform="translate(549.22 818.35) scale(1.0852 1)" font-size="22.36" font-family="DejaVu Sans, sans-serif" fill="#262626">FC(2)AUC=0.63</text>
<rect x="483.2" y="840.6" width="4.2" height="4.4" fill="#55a868"/>
<rect x="493.1" y="840.6" width="4.2" height="4.4" fill="#55a868"/>
<rect x="517.8" y="840.6" width="4.2" height="4.4" fill="#55a868"/>
<rect x="527.6" y="840.6" width="4.2" height="4.4" fill="#55a868"/>
<rect x="501.0" y="836.6" width="12.8" height="12.4" fill="#55a868"/>
<text transform="translate(549.23 850.95) scale(1.0819 1)" font-size="22.36" font-family="DejaVu Sans, sans-serif" fill="#262626">FC(2.5)AUC=0.34</text>
<line x1="483.2" y1="875.4" x2="496.1" y2="875.4" stroke="#c44e52" stroke-width="4.4"/>
<line x1="500.3" y1="875.4" x2="527.1" y2="875.4" stroke="#c44e52" stroke-width="4.4"/>
<line x1="531.5" y1="875.4" x2="533.3" y2="875.4" stroke="#c44e52" stroke-width="4.4"/>
<path d="M499.4 875.4 h16.1 M507.4 867.9 v15.0" stroke="#c44e52" stroke-width="6.0" fill="none"/>
<text transform="translate(549.22 883.55) scale(1.0835 1)" font-size="22.36" font-family="DejaVu Sans, sans-serif" fill="#262626">FC(3)AUC=0.28</text>
</g>
<g id="panelD">
<text transform="translate(851.85 853.40) scale(1.0014 1)" font-size="50.58" fill="#000">D</text>
<polyline points="928.9,942.5 1123.9,958.4 1318.9,932.9 1513.9,904.2 1708.9,888.7" fill="none" stroke="#ff7f0e" stroke-width="4.5" stroke-linejoin="miter"/>
<polyline points="928.9,983.3 1123.9,987.1 1318.9,976.8 1513.9,924.7 1708.9,979.8" fill="none" stroke="#1f77b4" stroke-width="4.5" stroke-linejoin="miter"/>
<polyline points="928.9,935.0 1123.9,955.4 1318.9,1101.3 1513.9,926.2 1708.9,937.3" fill="none" stroke="#2ca02c" stroke-width="4.5" stroke-linejoin="miter"/>
<polyline points="928.9,937.2 1123.9,931.1 1318.9,1132.0 1513.9,953.4 1708.9,915.3" fill="none" stroke="#d62728" stroke-width="4.5" stroke-linejoin="miter"/>
<rect x="892.3" y="876" width="854.7" height="268.9" fill="none" stroke="#000" stroke-width="2.4"/>
<line x1="904.5" y1="1028.6" x2="947.5" y2="1028.6" stroke="#ff7f0e" stroke-width="4.6"/>
<text transform="translate(960.09 1036.00) scale(1.0450 1)" font-size="18.66" font-family="DejaVu Sans, sans-serif" fill="#000">FC(2)</text>
<line x1="904.5" y1="1056.5" x2="947.5" y2="1056.5" stroke="#1f77b4" stroke-width="4.6"/>
<text transform="translate(960.09 1063.90) scale(1.0450 1)" font-size="18.66" font-family="DejaVu Sans, sans-serif" fill="#000">FC(1.5)</text>
<line x1="904.5" y1="1084.2" x2="947.5" y2="1084.2" stroke="#2ca02c" stroke-width="4.6"/>
<text transform="translate(960.09 1091.60) scale(1.0450 1)" font-size="18.66" font-family="DejaVu Sans, sans-serif" fill="#000">FC(2.5)</text>
<line x1="904.5" y1="1112.0" x2="947.5" y2="1112.0" stroke="#d62728" stroke-width="4.6"/>
<text transform="translate(960.09 1119.40) scale(1.0450 1)" font-size="18.66" font-family="DejaVu Sans, sans-serif" fill="#000">FC(3)</text>
<text transform="translate(845.42 898.20) scale(1.0079 1)" font-size="29.65" fill="#000">1.0</text>
<text transform="translate(842.05 1025.00) scale(0.9944 1)" font-size="29.65" fill="#000">0.5</text>
<text transform="translate(842.23 1145.40) scale(1.0062 1)" font-size="29.65" fill="#000">0.3</text>
<text transform="translate(835.87 1056.96) rotate(-90) scale(0.8368 1)" font-size="33.90" fill="#000">AUROC</text>
<text transform="translate(899.44 1181.20) scale(1.0155 1)" font-size="30.45" fill="#000">1-Fold</text>
<text transform="translate(1091.20 1182.00) scale(1.0432 1)" font-size="30.45" fill="#000">2-Fold</text>
<text transform="translate(1280.51 1179.60) scale(1.0278 1)" font-size="30.45" fill="#000">3-Fold</text>
<text transform="translate(1471.88 1179.60) scale(1.0364 1)" font-size="30.45" fill="#000">4-Fold</text>
<text transform="translate(1661.15 1179.60) scale(1.0213 1)" font-size="30.45" fill="#000">5-Fold</text>
</g>
</svg>
</body></html>
